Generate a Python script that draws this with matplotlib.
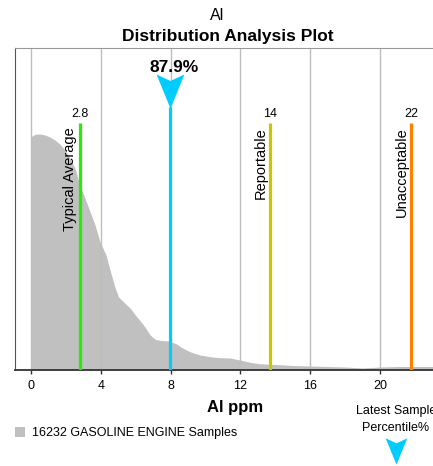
import matplotlib
matplotlib.use("Agg")
import matplotlib.pyplot as plt
from matplotlib.path import Path

plt.rcParams['font.family'] = ['Liberation Sans', 'DejaVu Sans']

# distribution of Al ppm (relative density)
dist_x = [0, 0.23, 0.52, 0.8, 1.09, 1.37, 1.66, 1.95, 2.23, 2.52, 2.8, 3.09, 3.38,
          3.67, 3.95, 4.3, 4.45, 4.64, 4.83, 5.02, 5.31, 5.69, 6.07, 6.45, 6.83,
          7.12, 7.4, 7.88, 8.36, 8.55, 9.1, 9.68, 10.26, 10.8, 11.4, 11.97, 12.55,
          13.1, 13.7, 14.3, 15, 16, 17, 18, 19, 20, 21, 22.5, 24]
dist_y = [233.3, 235.7, 236, 235, 233, 230, 225.7, 220, 211.7, 201.7, 185, 172,
          158.3, 145, 128.3, 115, 105, 93, 81.7, 73, 68, 61.7, 53, 45, 35,
          30.7, 29.7, 29, 26, 23.3, 18.3, 15, 13.3, 12.3, 12, 10, 7.7,
          6.3, 5.7, 5.3, 4.5, 4, 3.5, 3, 2, 3, 3.5, 3.5, 3.5]

limit_names = ["Typical Average", "Reportable", "Unacceptable"]
limit_values = [2.8, 13.7, 21.8]
limit_labels = ["2.8", "14", "22"]
limit_colors = ["#22ee00", "#c8c800", "#ff8000"]

latest_value = 7.95
latest_pct = "87.9%"
n_samples = 16232
sample_type = "GASOLINE ENGINE"
element = "Al"

W, H = 433, 466
fig = plt.figure(figsize=(W / 100, H / 100), dpi=100)
ax = fig.add_axes([15 / W, 1 - 370 / H, 440 / W, 322 / H])
ax.set_xlim(-16 / 17.45, 424 / 17.45)
ax.set_ylim(0, 322)

ax.fill_between(dist_x, dist_y, 0, color="#c0c0c0", lw=0,
                label="%d %s Samples" % (n_samples, sample_type), zorder=1)

ax.set_xticks([0, 4, 8, 12, 16, 20])
ax.grid(axis="x", color="#bdbdbd", lw=1, zorder=0)
ax.set_yticks([])
ax.tick_params(axis="x", length=3, width=1, color="#333333", labelsize=9, pad=4)
ax.spines["right"].set_visible(False)
ax.spines["top"].set_color("#999999")
ax.spines["left"].set_color("#555555")
ax.spines["bottom"].set_color("#333333")
ax.spines["bottom"].set_linewidth(1.3)
ax.set_xlabel("%s ppm" % element, fontsize=12, fontweight="bold", labelpad=6)

for name, v, lab, c in zip(limit_names, limit_values, limit_labels, limit_colors):
    ax.plot([v, v], [0, 247], color=c, lw=2.3, solid_capstyle="butt", zorder=3)
    ax.text(v, 256, lab, ha="center", va="center", fontsize=9)
    ax.text(v - 0.15, 243, name, rotation=90, ha="right", va="top", fontsize=10.5)

# latest sample marker
arrow = Path([(-0.82, 1), (0, 0.62), (0.82, 1), (0, -1), (-0.82, 1)],
             [Path.MOVETO, Path.LINETO, Path.LINETO, Path.LINETO, Path.CLOSEPOLY])
ax.plot([latest_value, latest_value], [0, 263], color="#00ccff", lw=2.3,
        solid_capstyle="butt", zorder=3)
ax.plot([latest_value], [279.5], marker=arrow, markersize=24.5, color="#00ccff",
        markeredgewidth=0, zorder=4, clip_on=False)
ax.text(latest_value + 0.25, 303, latest_pct, ha="center", va="center",
        fontsize=12.5, fontweight="bold")

fig.text(217 / W, 1 - 15 / H, element, ha="center", va="center", fontsize=11.5)
fig.text(228 / W, 1 - 36 / H, "Distribution Analysis Plot", ha="center",
         va="center", fontsize=12.5, fontweight="bold")

fig.legend(loc="center left", bbox_to_anchor=(15 / W, 1 - 433 / H), frameon=False,
           fontsize=9, borderpad=0, borderaxespad=0, handlelength=0.8,
           handleheight=0.8, handletextpad=0.6)

fig.text(396 / W, 1 - 419.5 / H, "Latest Sample\nPercentile%", ha="center",
         va="center", fontsize=9, linespacing=1.45)
fig.add_artist(plt.Line2D([396 / W], [1 - 451 / H], marker=arrow, markersize=19,
                          color="#00ccff", markeredgewidth=0,
                          transform=fig.transFigure))

fig.savefig("out.png", dpi=100)
